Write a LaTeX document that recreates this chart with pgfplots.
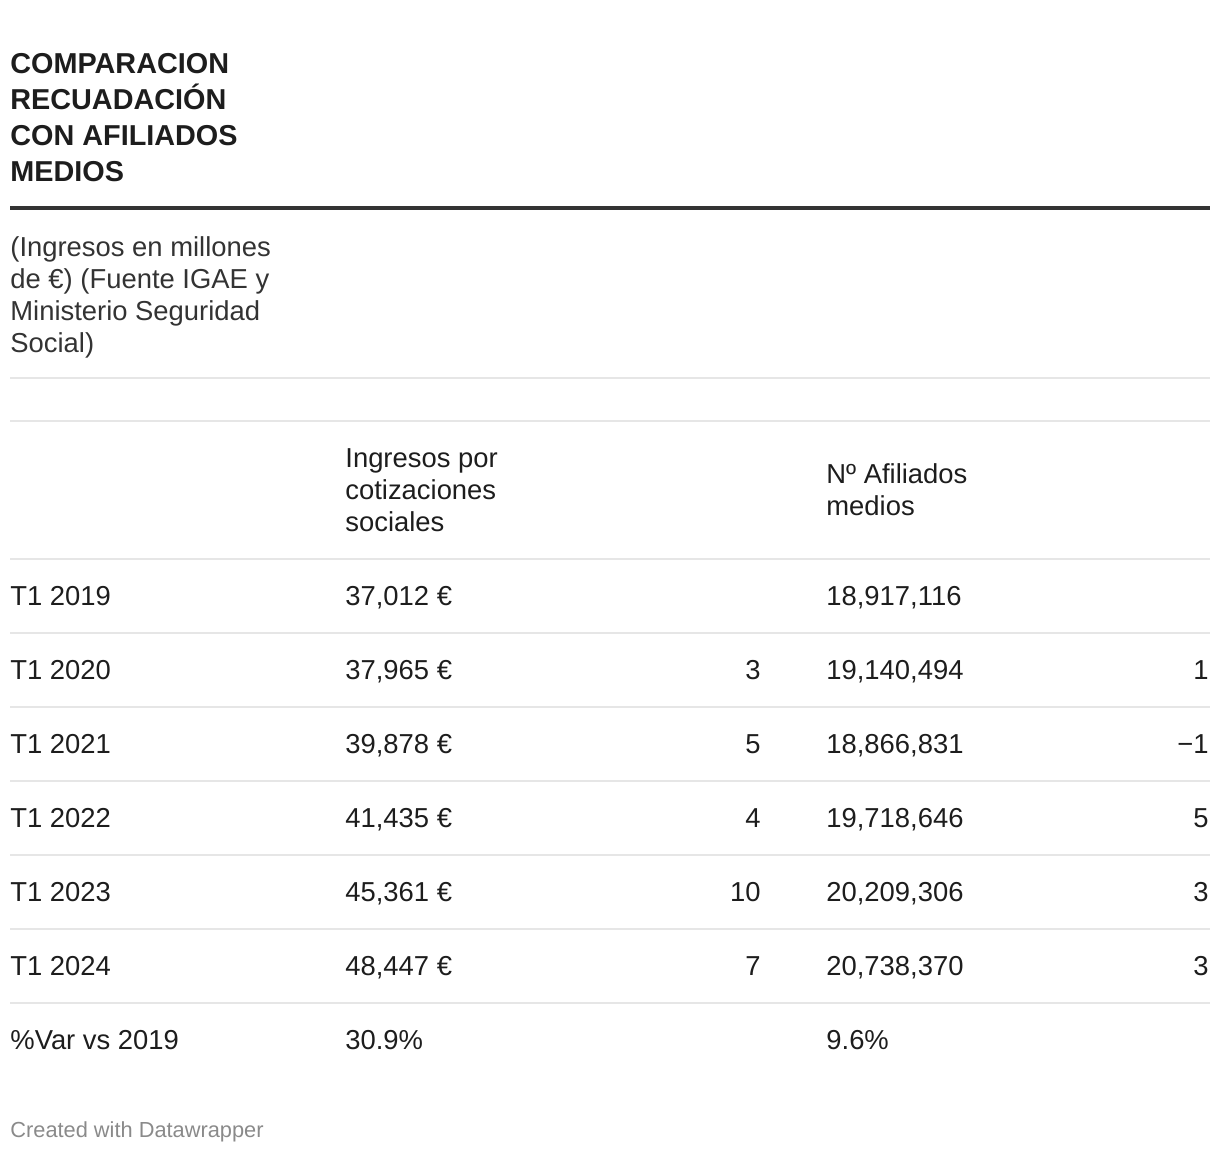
\documentclass[border=0pt]{standalone}
\usepackage{pgfplots}
\usepackage{pgfplotstable}
\pgfplotsset{compat=1.18}
\usepackage{fontspec}
\setmainfont{Liberation Sans}
\definecolor{txt}{HTML}{1D1D1D}
\definecolor{subc}{HTML}{333333}
\definecolor{rulec}{HTML}{E6E6E6}
\definecolor{foot}{HTML}{8A8A8A}

\pgfplotstableread[col sep=semicolon]{
x;y;t
10;605;T1 2019
10;679;T1 2020
10;753;T1 2021
10;827;T1 2022
10;901;T1 2023
10;975;T1 2024
10;1049;\%Var vs 2019
}\colA
\pgfplotstableread[col sep=semicolon]{
x;y;t
345;605;37,012 €
345;679;37,965 €
345;753;39,878 €
345;827;41,435 €
345;901;45,361 €
345;975;48,447 €
345;1049;30.9\%
}\colB
\pgfplotstableread[col sep=semicolon]{
x;y;t
761;679;3
761;753;5
761;827;4
761;901;10
761;975;7
}\colC
\pgfplotstableread[col sep=semicolon]{
x;y;t
826;605;18,917,116
826;679;19,140,494
826;753;18,866,831
826;827;19,718,646
826;901;20,209,306
826;975;20,738,370
826;1049;9.6\%
}\colD
\pgfplotstableread[col sep=semicolon]{
x;y;t
1209;679;1
1209;753;−1
1209;827;5
1209;901;3
1209;975;3
}\colE
\pgfplotstableread[col sep=semicolon]{
x;y;t
345;467;Ingresos por
345;499;cotizaciones
345;531;sociales
826;483;Nº Afiliados
826;515;medios
}\colH

\newcommand{\bodyfont}{\fontsize{13.7}{16}\selectfont}
\newcommand{\titlefont}{\fontsize{14.4}{18}\selectfont\bfseries}

\begin{document}
\begin{tikzpicture}
\begin{axis}[
  scale only axis, width=610pt, height=576pt,
  xmin=0, xmax=1220, ymin=0, ymax=1152,
  y dir=reverse, hide axis, clip=false,
  every node near coord/.append style={font=\bodyfont, text=txt, inner sep=0pt},
]
\addplot[draw=none, forget plot] coordinates {(0,0) (1220,1152)};

% rules
\draw[line width=2pt, color=subc] (axis cs:10,208) -- (axis cs:1210,208);
\foreach \yy in {378,421,559,633,707,781,855,929,1003}{
  \edef\tmp{\noexpand\draw[line width=0.6pt, color=rulec] (axis cs:10,\yy) -- (axis cs:1210,\yy);}\tmp
}

% title
\node[anchor=base west, inner sep=0pt, font=\titlefont, text=txt] at (axis cs:10,73) {COMPARACION};
\node[anchor=base west, inner sep=0pt, font=\titlefont, text=txt] at (axis cs:10,109) {RECUADACIÓN};
\node[anchor=base west, inner sep=0pt, font=\titlefont, text=txt] at (axis cs:10,145) {CON AFILIADOS};
\node[anchor=base west, inner sep=0pt, font=\titlefont, text=txt] at (axis cs:10,181) {MEDIOS};

% subtitle
\node[anchor=base west, inner sep=0pt, font=\bodyfont, text=subc] at (axis cs:10,256) {(Ingresos en millones};
\node[anchor=base west, inner sep=0pt, font=\bodyfont, text=subc] at (axis cs:10,288) {de €) (Fuente IGAE y};
\node[anchor=base west, inner sep=0pt, font=\bodyfont, text=subc] at (axis cs:10,320) {Ministerio Seguridad};
\node[anchor=base west, inner sep=0pt, font=\bodyfont, text=subc] at (axis cs:10,352) {Social)};

% table content
\addplot[draw=none, nodes near coords, point meta=explicit symbolic,
  nodes near coords style={anchor=base west}] table[x=x, y=y, meta=t] {\colH};
\addplot[draw=none, nodes near coords, point meta=explicit symbolic,
  nodes near coords style={anchor=base west}] table[x=x, y=y, meta=t] {\colA};
\addplot[draw=none, nodes near coords, point meta=explicit symbolic,
  nodes near coords style={anchor=base west}] table[x=x, y=y, meta=t] {\colB};
\addplot[draw=none, nodes near coords, point meta=explicit symbolic,
  nodes near coords style={anchor=base east}] table[x=x, y=y, meta=t] {\colC};
\addplot[draw=none, nodes near coords, point meta=explicit symbolic,
  nodes near coords style={anchor=base west}] table[x=x, y=y, meta=t] {\colD};
\addplot[draw=none, nodes near coords, point meta=explicit symbolic,
  nodes near coords style={anchor=base east}] table[x=x, y=y, meta=t] {\colE};

% footer
\node[anchor=base west, inner sep=0pt, font=\fontsize{10.9}{13}\selectfont, text=foot] at (axis cs:10,1137) {Created with Datawrapper};
\end{axis}
\end{tikzpicture}
\end{document}
